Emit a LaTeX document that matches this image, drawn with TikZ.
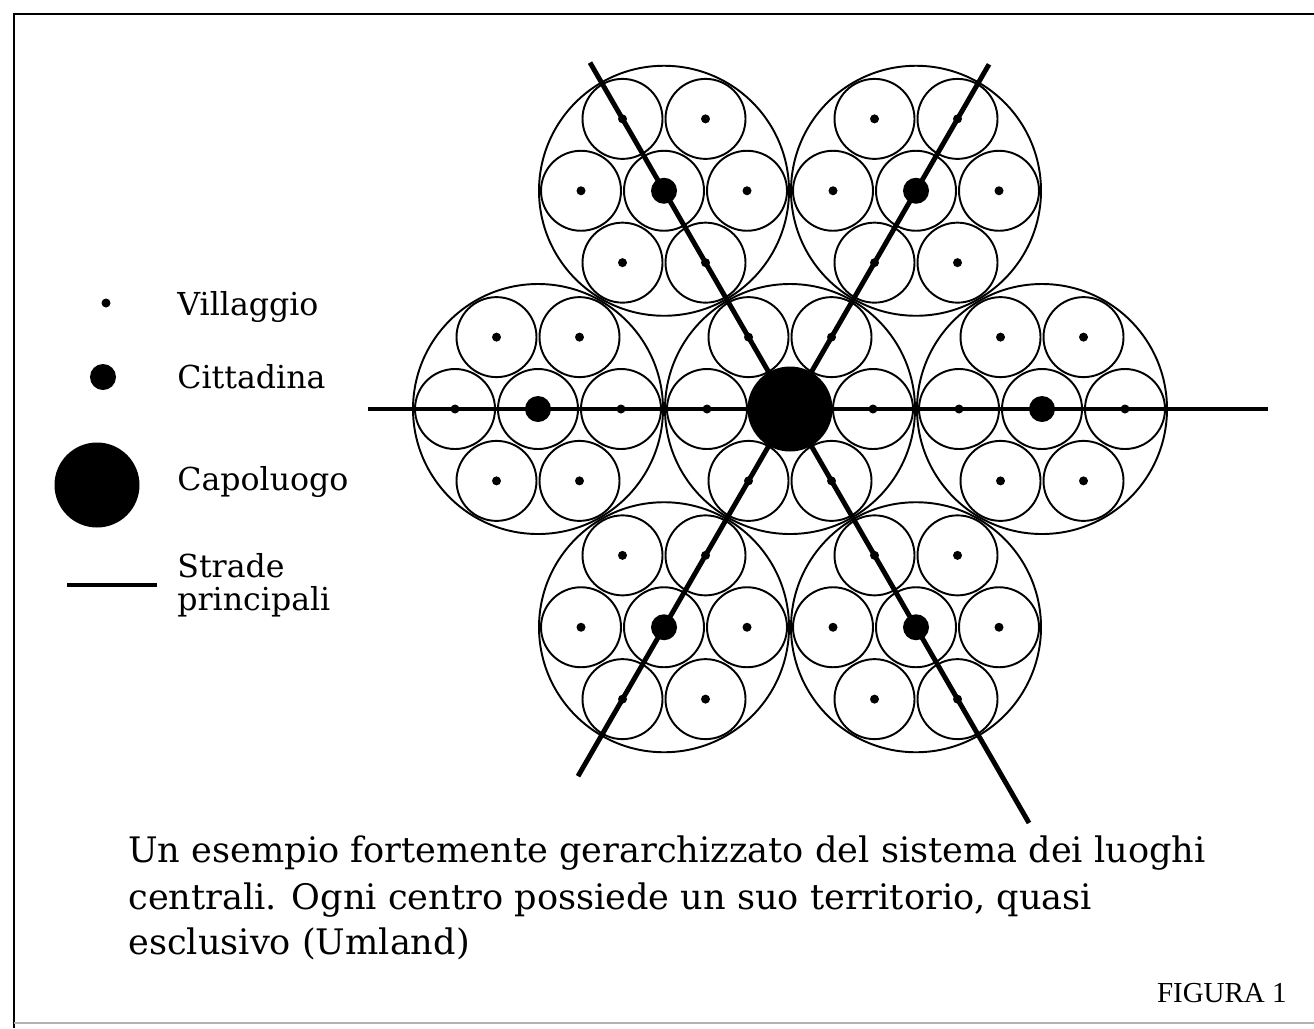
\documentclass[tikz,border=0pt]{standalone}
\usepackage{fontspec}
\setmainfont{DejaVu Serif}
\newfontfamily\figfont{Liberation Serif}
\usetikzlibrary{positioning}

\begin{document}
\begin{tikzpicture}[x=0.02cm, y=-0.02cm,
		ring/.style={line width=1.1pt},
		road/.style={line width=2.8pt},
		villaggio/.style={fill, circle, inner sep=0pt, minimum size=9*0.02cm},
		cittadina/.style={fill, circle, inner sep=0pt, minimum size=26*0.02cm},
		capoluogo/.style={fill, circle, inner sep=0pt, minimum size=85*0.02cm},
		legendtext/.style={anchor=base west, inner sep=0pt, font=\fontsize{18}{20}\selectfont},
		captiontext/.style={anchor=base west, inner sep=0pt, font=\fontsize{20}{22}\selectfont}
	]
	\useasboundingbox (0,0) rectangle (1314,1028);

	% frame
	\draw[line width=1.3pt] (14,1028) -- (14,14) -- (1314,14);
	\draw[black!30, line width=0.8pt] (14,1023) -- (1314,1023);

	% shift scope to the capoluogo
	\begin{scope}[shift={(790,409)}]
		% central umland
		\foreach \a in {0,60,...,300} {
			\draw[ring] (\a:83) circle [radius=40];
			\node[villaggio] (v0-\a) at (\a:83) {};
		}
		\draw[ring] (0,0) circle [radius=125];

		% the six umland of the cittadine
		\foreach \c in {0,60,...,300} {
			\begin{scope}[shift={(\c:252)}]
				\draw[ring] (0,0) circle [radius=40];
				\foreach \a in {0,60,...,300} {
					\draw[ring] (\a:83) circle [radius=40];
					\node[villaggio] (v\c-\a) at (\a:83) {};
				}
				\draw[ring] (0,0) circle [radius=125];
			\end{scope}
		}

		% strade principali
		\coordinate (west) at (180:422);
		\coordinate (east) at (0:478);
		\coordinate (nw) at (240:400);
		\coordinate (se) at (60:478);
		\coordinate (ne) at (300:398);
		\coordinate (sw) at (120:424);
		\draw[road] (west) -- (east);
		\draw[road] (nw) -- (se);
		\draw[road] (ne) -- (sw);

		\foreach \c in {0,60,...,300} {
			\node[cittadina] (cit\c) at (\c:252) {};
		}
		\node[capoluogo] (capo) at (0,0) {};
	\end{scope}

	% legend
	\node[villaggio] (keyv) at (106,303) {};
	\node[legendtext] (lv) at (177,315) {Villaggio};
	\node[cittadina] (keyc) at (103,377) {};
	\node[legendtext] (lc) at (177,388) {Cittadina};
	\node[capoluogo] (keyk) at (97,485) {};
	\node[legendtext] (lk) at (177,490) {Capoluogo};
	\coordinate (keyrA) at (67,585);
	\coordinate (keyrB) at (157,585);
	\draw[road] (keyrA) -- (keyrB);
	\node[legendtext] (lr1) at (177,577) {Strade};
	\node[legendtext] (lr2) at (177,610) {principali};

	% caption
	\node[captiontext] (cap1) at (128,862) {Un esempio fortemente gerarchizzato del sistema dei luoghi};
	\node[captiontext] (cap2) at (128,909) {centrali. Ogni centro possiede un suo territorio, quasi};
	\node[captiontext] (cap3) at (128,954) {esclusivo (Umland)};
	\node[anchor=base east, inner sep=0pt, font=\figfont\fontsize{16.5}{18}\selectfont] (fig) at (1287,1002) {FIGURA 1};
\end{tikzpicture}
\end{document}
